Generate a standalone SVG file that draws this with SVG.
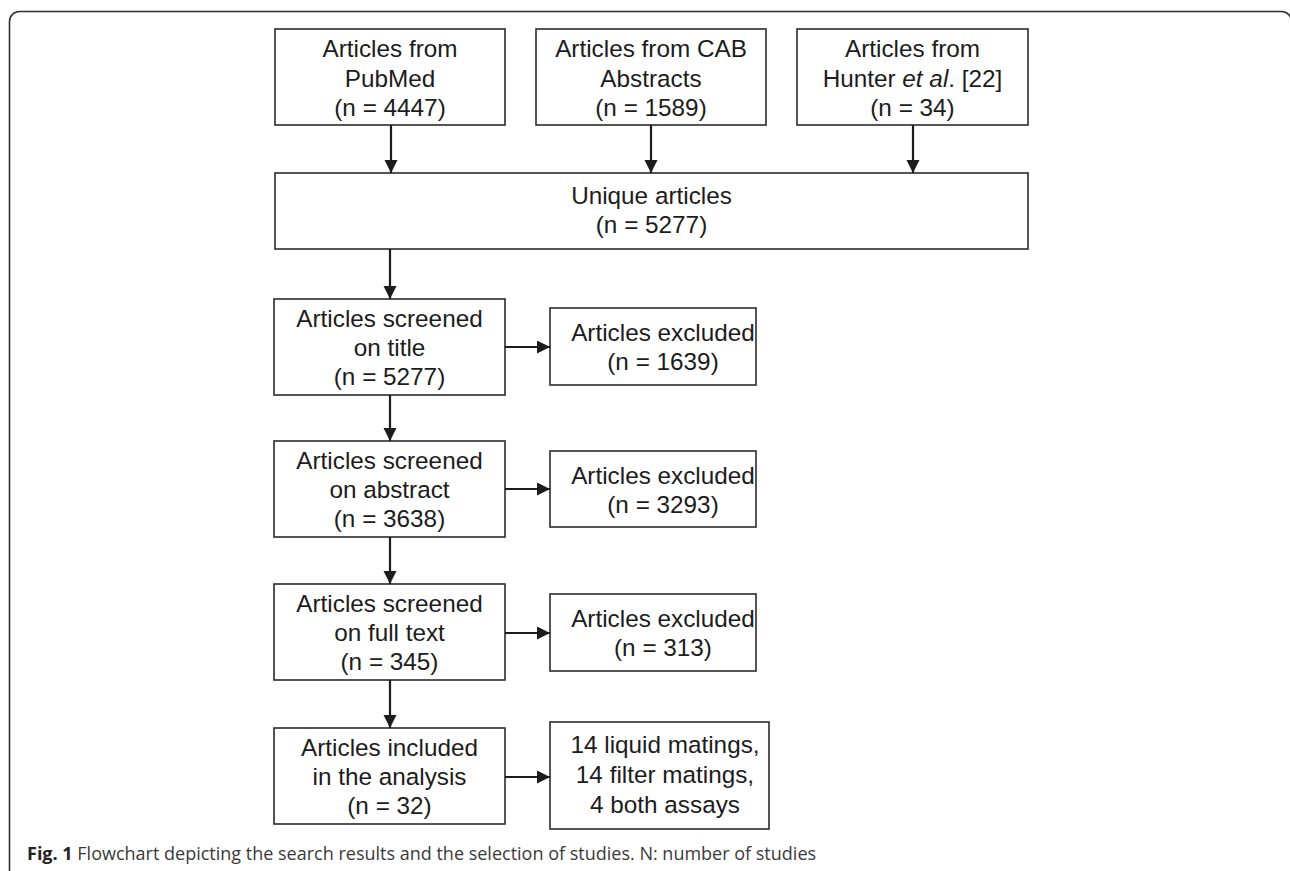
<svg xmlns="http://www.w3.org/2000/svg" width="1290" height="871" viewBox="0 0 1290 871">
<defs>
<style>
.box{fill:#fff;stroke:#2b2b2b;stroke-width:1.6}
.t{font-family:"Liberation Sans",Arial,sans-serif;font-size:24.3px;fill:#1c1c1c;text-anchor:middle}
.e{stroke:#1c1c1c;stroke-width:2.2;fill:none}
.cap{font-family:"Open Sans",sans-serif;font-size:18px;fill:#3a3a3a}
</style>
<marker id="ah" markerUnits="userSpaceOnUse" markerWidth="14" markerHeight="14" refX="13" refY="6.5" orient="auto">
<path d="M0,0 L13,6.5 L0,13 z" fill="#1c1c1c"/>
</marker>
</defs>
<rect x="0" y="0" width="1290" height="871" fill="#fff"/>
<rect x="9.5" y="11.5" width="1282" height="900" rx="10" fill="none" stroke="#2e2e2e" stroke-width="1.6"/>

<g id="pubmed">
<rect class="box" x="275" y="29" width="230" height="96"/>
<text class="t" x="390" y="57">Articles from</text>
<text class="t" x="390" y="87">PubMed</text>
<text class="t" x="390" y="116">(n = 4447)</text>
</g>
<g id="cab">
<rect class="box" x="536" y="29" width="230" height="96"/>
<text class="t" x="651" y="57">Articles from CAB</text>
<text class="t" x="651" y="87">Abstracts</text>
<text class="t" x="651" y="116">(n = 1589)</text>
</g>
<g id="hunter">
<rect class="box" x="797" y="29" width="231" height="96"/>
<text class="t" x="912.5" y="57">Articles from</text>
<text class="t" x="912.5" y="87">Hunter <tspan font-style="italic">et al</tspan>. [22]</text>
<text class="t" x="912.5" y="116">(n = 34)</text>
</g>
<g id="unique">
<rect class="box" x="275" y="173" width="753" height="76"/>
<text class="t" x="651.5" y="204">Unique articles</text>
<text class="t" x="651.5" y="233">(n = 5277)</text>
</g>
<g id="screen-title">
<rect class="box" x="274" y="299" width="231" height="96"/>
<text class="t" x="389.5" y="327">Articles screened</text>
<text class="t" x="389.5" y="356">on title</text>
<text class="t" x="389.5" y="385">(n = 5277)</text>
</g>
<g id="excl-title">
<rect class="box" x="550" y="308" width="206" height="77"/>
<text class="t" x="663" y="341">Articles excluded</text>
<text class="t" x="663" y="370">(n = 1639)</text>
</g>
<g id="screen-abstract">
<rect class="box" x="274" y="441" width="231" height="96"/>
<text class="t" x="389.5" y="469">Articles screened</text>
<text class="t" x="389.5" y="498">on abstract</text>
<text class="t" x="389.5" y="527">(n = 3638)</text>
</g>
<g id="excl-abstract">
<rect class="box" x="550" y="451" width="206" height="76"/>
<text class="t" x="663" y="484">Articles excluded</text>
<text class="t" x="663" y="513">(n = 3293)</text>
</g>
<g id="screen-full">
<rect class="box" x="274" y="584" width="231" height="96"/>
<text class="t" x="389.5" y="612">Articles screened</text>
<text class="t" x="389.5" y="641">on full text</text>
<text class="t" x="389.5" y="670">(n = 345)</text>
</g>
<g id="excl-full">
<rect class="box" x="550" y="594" width="206" height="77"/>
<text class="t" x="663" y="627">Articles excluded</text>
<text class="t" x="663" y="656">(n = 313)</text>
</g>
<g id="included">
<rect class="box" x="274" y="728" width="231" height="96"/>
<text class="t" x="389.5" y="756">Articles included</text>
<text class="t" x="389.5" y="785">in the analysis</text>
<text class="t" x="389.5" y="814">(n = 32)</text>
</g>
<g id="result">
<rect class="box" x="550" y="722" width="219" height="107"/>
<text class="t" x="665" y="753">14 liquid matings,</text>
<text class="t" x="665" y="783">14 filter matings,</text>
<text class="t" x="665" y="813">4 both assays</text>
</g>

<g id="connectors">
<line class="e" x1="391" y1="125" x2="391" y2="173" marker-end="url(#ah)"/>
<line class="e" x1="651" y1="125" x2="651" y2="173" marker-end="url(#ah)"/>
<line class="e" x1="913" y1="125" x2="913" y2="173" marker-end="url(#ah)"/>
<line class="e" x1="390" y1="249" x2="390" y2="299" marker-end="url(#ah)"/>
<line class="e" x1="390" y1="395" x2="390" y2="441" marker-end="url(#ah)"/>
<line class="e" x1="390" y1="537" x2="390" y2="584" marker-end="url(#ah)"/>
<line class="e" x1="390" y1="680" x2="390" y2="728" marker-end="url(#ah)"/>
<line class="e" x1="505" y1="347" x2="550" y2="347" marker-end="url(#ah)"/>
<line class="e" x1="505" y1="489" x2="550" y2="489" marker-end="url(#ah)"/>
<line class="e" x1="505" y1="633" x2="550" y2="633" marker-end="url(#ah)"/>
<line class="e" x1="505" y1="777" x2="550" y2="777" marker-end="url(#ah)"/>
</g>

<text class="cap" x="27" y="860"><tspan font-weight="bold" fill="#222">Fig. 1</tspan> Flowchart depicting the search results and the selection of studies. N: number of studies</text>
</svg>
